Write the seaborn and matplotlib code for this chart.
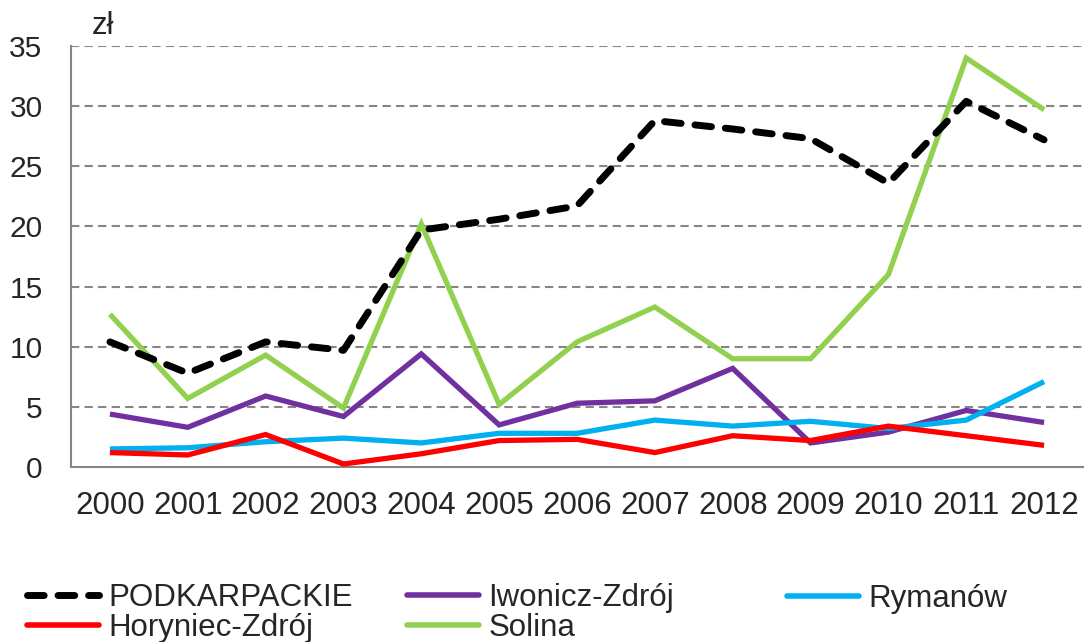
import matplotlib
matplotlib.use("Agg")
import matplotlib.pyplot as plt
import seaborn as sns
import numpy as np
from matplotlib.lines import Line2D

years = ["2000", "2001", "2002", "2003", "2004", "2005", "2006",
         "2007", "2008", "2009", "2010", "2011", "2012"]
podkarpackie = [10.4, 7.8, 10.4, 9.7, 19.7, 20.6, 21.7, 28.8, 28.1, 27.3, 23.6, 30.4, 27.2]
iwonicz = [4.4, 3.3, 5.9, 4.2, 9.4, 3.5, 5.3, 5.5, 8.2, 2.0, 2.9, 4.7, 3.7]
rymanow = [1.5, 1.6, 2.1, 2.4, 2.0, 2.8, 2.8, 3.9, 3.4, 3.8, 3.2, 3.9, 7.1]
horyniec = [1.2, 1.0, 2.7, 0.25, 1.1, 2.2, 2.3, 1.2, 2.6, 2.2, 3.4, 2.6, 1.8]
solina = [12.7, 5.7, 9.3, 4.9, 20.2, 5.2, 10.4, 13.3, 9.0, 9.0, 16.0, 34.0, 29.7]

names = ["PODKARPACKIE", "Iwonicz-Zdrój", "Rymanów", "Horyniec-Zdrój", "Solina"]
colors = ["#000000", "#7030A0", "#00B0F0", "#FF0000", "#92D050"]
y_ticks = [0, 5, 10, 15, 20, 25, 30, 35]

sns.set_theme(style="white")
plt.rcParams["font.family"] = ["Liberation Sans", "DejaVu Sans"]

FS = 22.5
W, H = 1084, 642
fig = plt.figure(figsize=(W / 100, H / 100), dpi=100)
ax = fig.add_axes([71 / W, (H - 467) / H, (1083 - 71) / W, (467 - 46) / H])

x = np.arange(len(years))
series = [podkarpackie, iwonicz, rymanow, horyniec, solina]

DASH = (0, (2.4, 2.0))
order = [4, 1, 2, 3, 0]
for i in order:
    if i == 0:
        sns.lineplot(x=x, y=series[i], ax=ax, color=colors[i], lw=5.0,
                     linestyle=DASH, dash_capstyle="round",
                     zorder=5, legend=False)
    else:
        sns.lineplot(x=x, y=series[i], ax=ax, color=colors[i], lw=3.8,
                     solid_joinstyle="miter", solid_capstyle="butt",
                     zorder=4, legend=False)

ax.set_xlim(-0.5, len(years) - 0.5)
ax.set_ylim(0, 35)
ax.set_yticks(y_ticks)
ax.set_yticklabels([str(v) for v in y_ticks], fontsize=21.5)
ax.set_xticks(x)
ax.set_xticklabels(years, fontsize=FS)
ax.set_xticks(np.arange(-0.5, len(years), 1.0), minor=True)
ax.tick_params(axis="x", which="major", length=0, pad=17)
ax.tick_params(axis="x", which="minor", length=7, width=1.5, color="#868686", direction="out")
ax.tick_params(axis="y", which="major", length=6.5, width=1.5, color="#868686", direction="out", pad=14)
ax.grid(False)
for v in y_ticks[1:]:
    ax.axhline(v, color="#868686", lw=1.5, ls=(0, (4, 2.5)), zorder=1)
for s in ["top", "right"]:
    ax.spines[s].set_visible(False)
for s in ["left", "bottom"]:
    ax.spines[s].set_color("#868686")
    ax.spines[s].set_linewidth(1.5)

fig.text(92 / W, 1 - 26 / H, "zł", fontsize=FS, va="center", ha="left")

def handle(i):
    if i == 0:
        return Line2D([], [], color=colors[i], lw=5.0, linestyle=DASH,
                      dash_capstyle="round")
    return Line2D([], [], color=colors[i], lw=4.0, solid_capstyle="round")

common = dict(frameon=False, fontsize=FS, handlelength=2.3, handletextpad=0.3,
              borderpad=0, borderaxespad=0, labelspacing=0.0, loc="center left")
fig.legend([handle(0), handle(3)], [names[0], names[3]],
           bbox_to_anchor=(27 / W, 1 - 613 / H), **common)
fig.legend([handle(1), handle(4)], [names[1], names[4]],
           bbox_to_anchor=(407 / W, 1 - 613 / H), **common)
fig.legend([handle(2)], [names[2]],
           bbox_to_anchor=(787 / W, 1 - 599 / H), **common)

fig.savefig("out.png", dpi=100)
